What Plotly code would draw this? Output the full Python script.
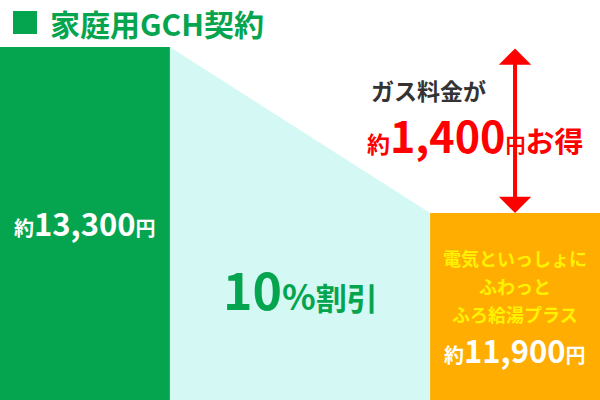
import plotly.graph_objects as go

# Data
plans = ["家庭用GCH契約", "電気といっしょに ふわっと ふろ給湯プラス"]
prices = [13300, 11900]
bar_pos = [0, 1]
discount_label = "10%割引"
saving = prices[0] - prices[1]

GREEN = "#05A54F"
ORANGE = "#FFAD00"
CYAN = "#D4F8F4"
RED = "#FF0000"
FONT = "Noto Sans CJK JP"

bar_w = 0.395
y_lo, y_hi = 10323, 13697

fig = go.Figure()

# light cyan slope between the two bars
fig.add_trace(go.Scatter(
    x=[bar_pos[0] + bar_w / 2, bar_pos[1] - bar_w / 2, bar_pos[1] - bar_w / 2, bar_pos[0] + bar_w / 2],
    y=[prices[0], prices[1], y_lo, y_lo],
    fill="toself", fillcolor=CYAN, mode="none",
    hoverinfo="skip", showlegend=False
))

fig.add_trace(go.Bar(
    x=bar_pos, y=prices, width=bar_w,
    marker=dict(color=[GREEN, ORANGE], line=dict(width=0)),
    hoverinfo="skip", showlegend=False
))


def px(x, y):
    return x / 600, 1 - y / 400


annots = []

# red double arrow
annots.append(dict(
    x=bar_pos[1], y=prices[1], ax=bar_pos[1], ay=prices[0],
    xref="x", yref="y", axref="x", ayref="y",
    text="", showarrow=True, arrowside="end+start",
    arrowhead=1, startarrowhead=1, arrowsize=1.35, startarrowsize=1.35,
    arrowwidth=4, arrowcolor=RED
))


def label(text, x, y, size, color, xanchor="center"):
    ax_, ay_ = px(x, y)
    annots.append(dict(
        x=ax_, y=ay_, xref="paper", yref="paper", text=text,
        showarrow=False, xanchor=xanchor, yanchor="middle",
        font=dict(family=FONT, size=size, color=color, weight="bold")
    ))


label(plans[0], 48, 23, 30, GREEN, xanchor="left")
label("ガス料金が", 428, 90, 23, "#333333")
label('<span style="font-size:23px">約</span>{:,}<span style="font-size:20px">円</span>'
      '<span style="font-size:29px">お得</span>'.format(saving), 365, 134, 43, RED, xanchor="left")
label('<span style="font-size:20px">約</span>{:,}<span style="font-size:20px">円</span>'.format(prices[0]),
      85, 222, 31, "white")
label('10<span style="font-size:35px">%</span><span style="font-size:31px">割引</span>',
      300, 288, 50, GREEN)
for i, line in enumerate(plans[1].split(" ")):
    label(line, 515, 258 + 28 * i, 18, "#FFF200")
label('<span style="font-size:20px">約</span>{:,}<span style="font-size:20px">円</span>'.format(prices[1]),
      515, 349, 31, "white")

fig.update_layout(
    width=600, height=400,
    margin=dict(l=0, r=0, t=0, b=0),
    paper_bgcolor="white", plot_bgcolor="white",
    bargap=0,
    xaxis=dict(range=[-bar_w / 2, 1 + bar_w / 2], visible=False, fixedrange=True),
    yaxis=dict(range=[y_lo, y_hi], visible=False, fixedrange=True),
    annotations=annots,
    shapes=[dict(type="rect", xref="paper", yref="paper",
                 x0=13 / 600, x1=37 / 600, y0=1 - 34 / 400, y1=1 - 11 / 400,
                 fillcolor=GREEN, line=dict(width=0))]
)

fig.write_html("out.html", config={"displayModeBar": False},
               post_script="document.body.style.margin='0';")
